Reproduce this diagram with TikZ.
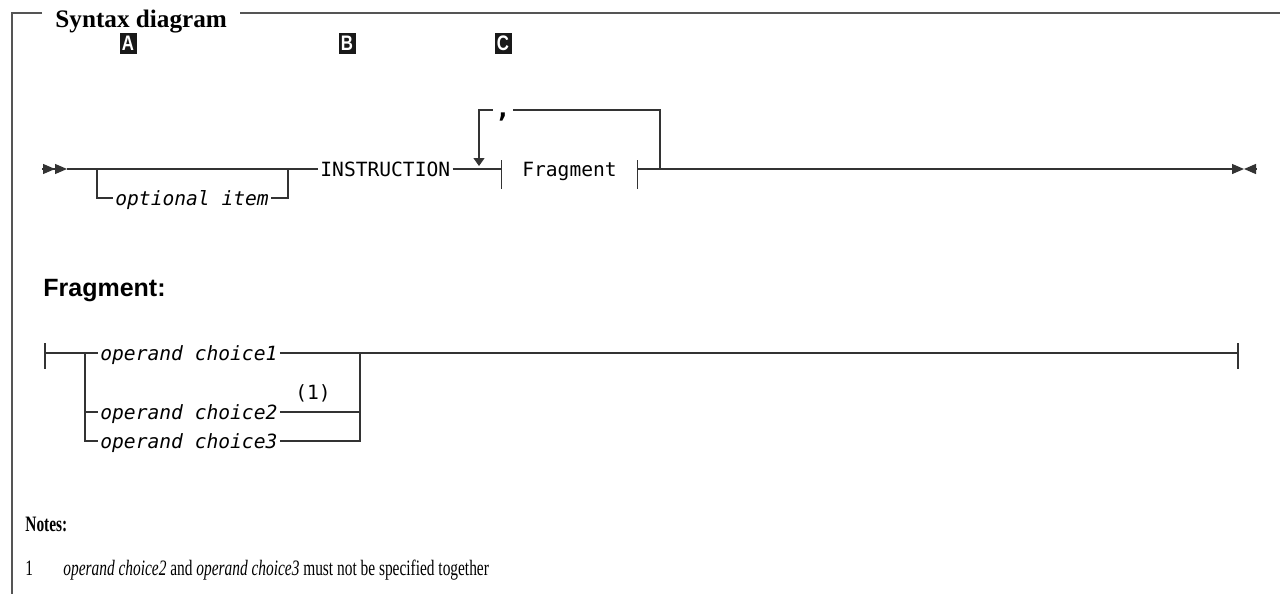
\documentclass[tikz,border=0pt]{standalone}
\usepackage{fontspec}
\setmainfont{Liberation Serif}
\newfontfamily\railfont{DejaVu Sans Mono}
\newfontfamily\notefont{Liberation Serif}[FakeStretch=0.7]
\newfontfamily\headfont{Liberation Sans}
\newfontfamily\tagfont{Liberation Sans}[FakeStretch=0.8]
\usetikzlibrary{arrows.meta}
\definecolor{railgray}{HTML}{333333}
\definecolor{framegray}{HTML}{555555}

\begin{document}
\begin{tikzpicture}[x=0.5pt, y=-0.5pt]
    \tikzstyle{rail} = [line width=0.65pt, draw=railgray]
    \tikzstyle{frame} = [line width=0.8pt, draw=framegray]
    \tikzstyle{kw} = [font=\railfont\fontsize{9.8}{12}\selectfont, inner xsep=1pt, inner ysep=0pt, text height=7pt, text depth=0pt, anchor=west]
    \tikzstyle{var} = [kw, font=\railfont\itshape\fontsize{9.8}{12}\selectfont]
    \tikzstyle{tag} = [fill=black!90, text=white, font=\tagfont\bfseries\fontsize{10.5}{11}\selectfont, minimum width=8.5pt, minimum height=10.5pt, inner sep=0pt]
    \tikzstyle{note} = [font=\notefont\fontsize{11}{13}\selectfont, anchor=base west, inner sep=0pt]
    \tikzstyle{fin} = [rail, -{Triangle[length=6pt, width=5pt]}]

    \useasboundingbox (0,0) rectangle (1280,594);

    % frame with title
    \node[font=\bfseries\fontsize{12.6}{14}\selectfont, inner xsep=6.5pt, anchor=base west] (title) at (42,27) {Syntax diagram};
    \coordinate (ftop) at (0,13);
    \draw[frame] (title.west |- ftop) -| (12,594);
    \draw[frame] (title.east |- ftop) -- (1280,13);

    \foreach \t/\x in {A/128, B/347, C/503}
        \node[tag] (tag\t) at (\x,43) {\t};

    % main rail
    \coordinate (start) at (42,169);
    \coordinate (in) at (67,169);
    \coordinate (optL) at (97,169);
    \coordinate (optR) at (288,169);
    \coordinate (loopIn) at (479,166);
    \coordinate (join) at (660,169);
    \coordinate (out) at (1232,169);
    \coordinate (mid) at (1244,169);
    \coordinate (stop) at (1256,169);
    \node[kw] (instr) at (318,169) {INSTRUCTION};
    \node[var] (opt) at (113,198) {optional item};
    \node[kw, anchor=center, inner xsep=10.3pt] (frag) at (569.5,169) {Fragment};
    \node[kw, anchor=center, font=\railfont\bfseries\fontsize{13}{14}\selectfont] (comma) at (503,110) {,};

    \draw[rail, -{Triangle[length=6pt, width=5pt, sep=0pt] Triangle[length=6pt, width=5pt]}] (start) -- (in);
    \draw[rail] (in) -- (instr.west);
    \draw[rail] (optL) |- (opt.west);
    \draw[rail] (opt.east) -| (optR);
    \draw[rail] (instr.east) -- (frag.west);
    \draw[rail] (frag.east) -- (out);
    \draw[fin] (out) -- (mid);
    \draw[fin] (stop) -- (mid);
    \draw[rail] (join) |- (comma.east);
    \draw[rail, -{Triangle[length=4pt, width=5.5pt]}] (comma.west) -| (loopIn);
    \foreach \s in {west, east}
        \draw[rail] ([yshift=4.5pt]frag.\s) -- ([yshift=-10pt]frag.\s);

    % fragment
    \node[font=\headfont\bfseries\fontsize{12.5}{14}\selectfont, anchor=base west, inner sep=0pt] (fhead) at (43,296) {Fragment:};
    \coordinate (fstart) at (45,353);
    \coordinate (brL) at (85,353);
    \coordinate (brR) at (360,353);
    \coordinate (fend) at (1238,353);
    \node[var] (c1) at (98,353) {operand choice1};
    \node[var] (c2) at (98,412) {operand choice2};
    \node[var] (c3) at (98,441) {operand choice3};
    \node[kw, anchor=center] (ref1) at (313,392) {(1)};

    \draw[rail] (fstart) -- (c1.west);
    \draw[rail] (c1.east) -- (fend);
    \foreach \c in {c2, c3} {
        \draw[rail] (brL) |- (\c.west);
        \draw[rail] (\c.east) -| (brR);
    }
    \foreach \p in {fstart, fend}
        \draw[rail] ([yshift=5pt]\p) -- ([yshift=-8pt]\p);

    % notes
    \node[note, font=\notefont\bfseries\fontsize{11}{13}\selectfont] (notes) at (25,531) {Notes:};
    \node[note] (n1) at (25,575) {1};
    \node[note] (n1text) at (63,575) {\textit{operand choice2} and \textit{operand choice3} must not be specified together};
\end{tikzpicture}
\end{document}
